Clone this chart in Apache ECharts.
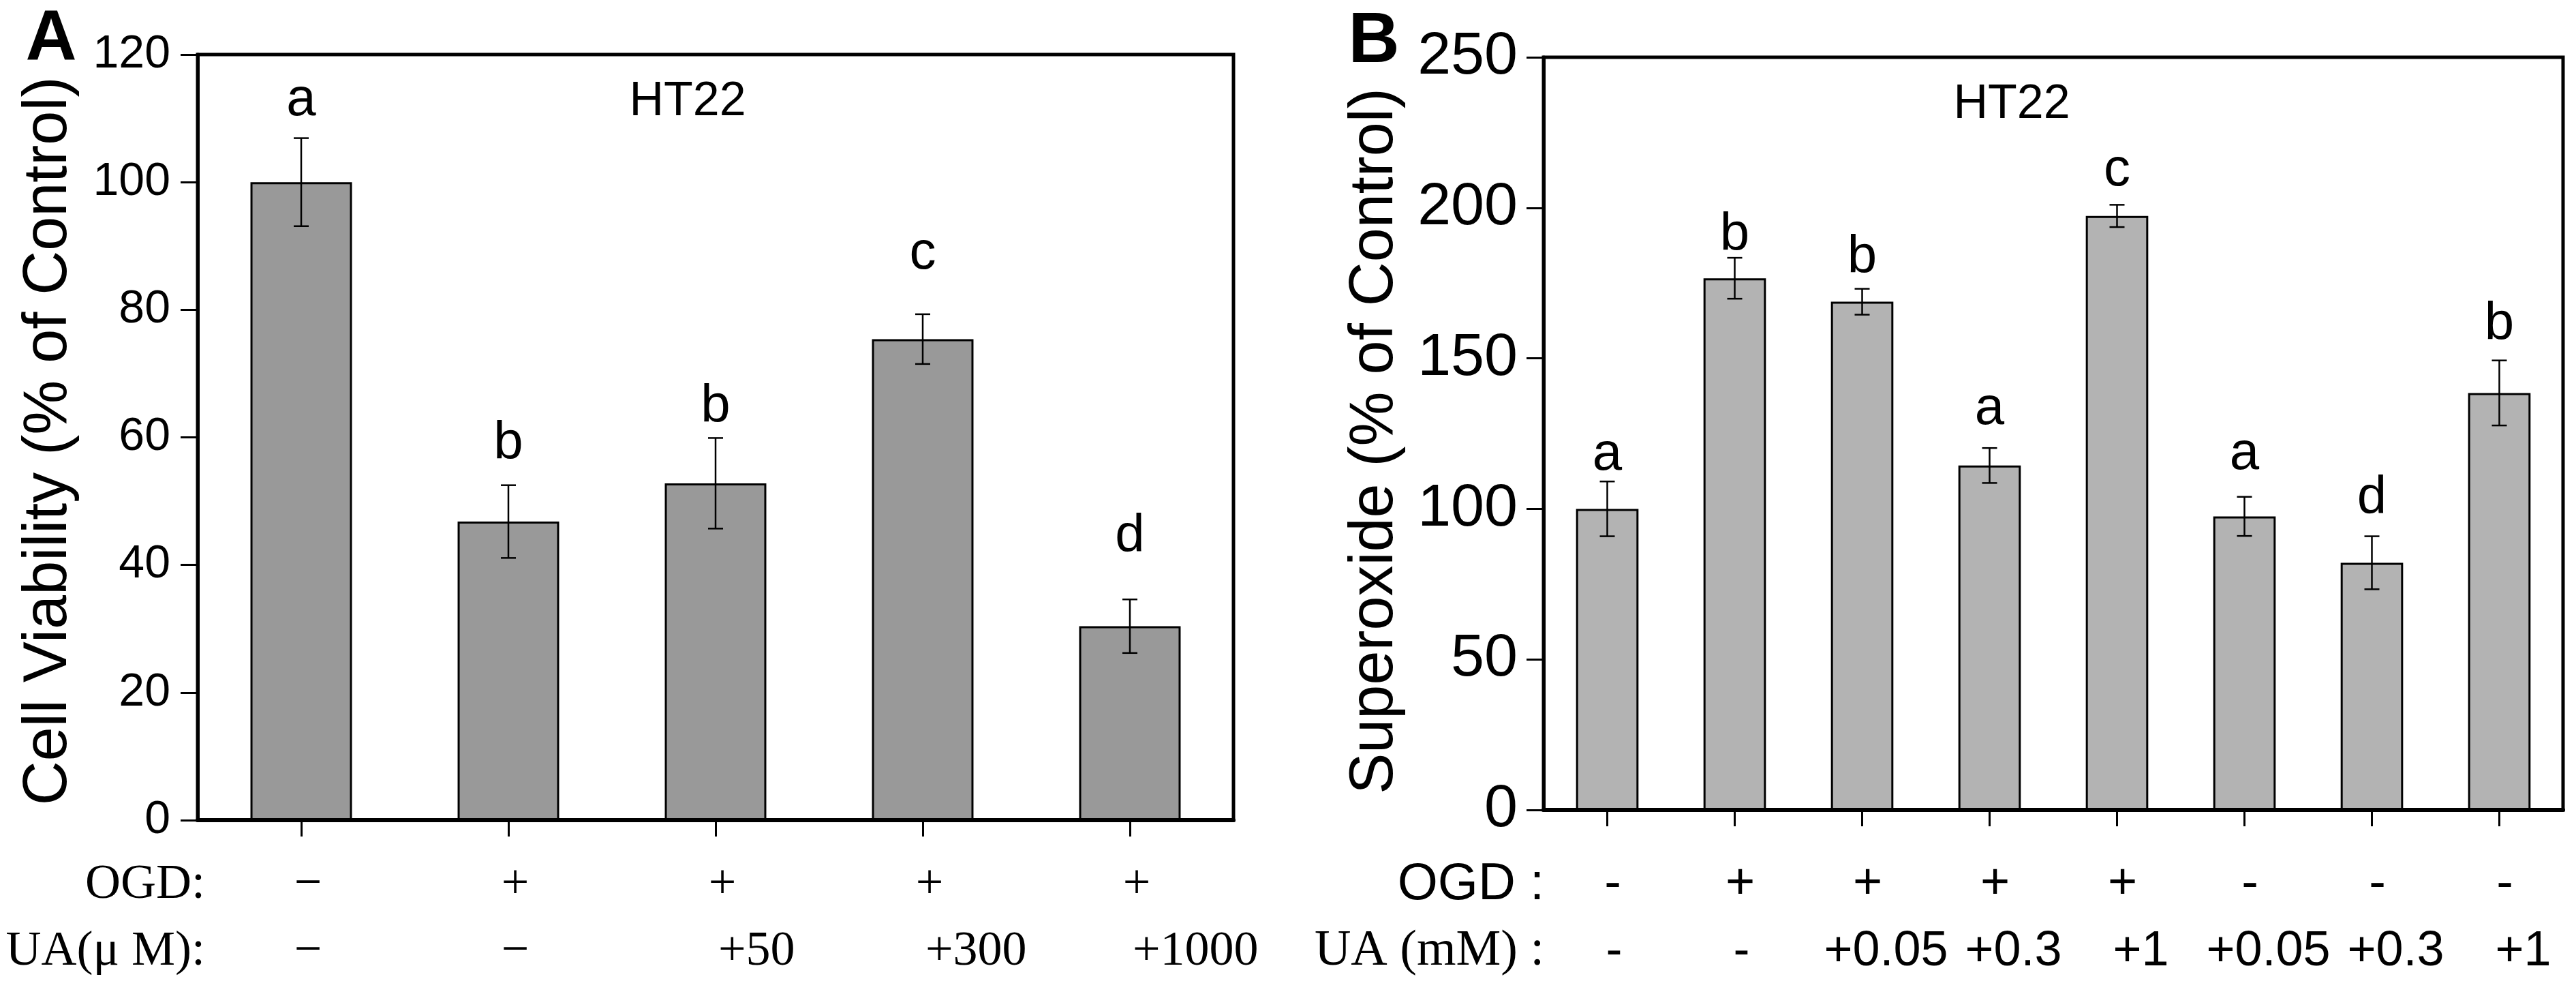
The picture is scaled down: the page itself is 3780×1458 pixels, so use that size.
<!DOCTYPE html>
<html><head><meta charset="utf-8">
<script src="https://cdn.jsdelivr.net/npm/echarts@6/dist/echarts.min.js"></script>
<style>html,body{margin:0;padding:0;background:#fff}#c{width:3780px;height:1458px}</style>
</head><body><div id="c"></div>
<script>
// ---------- Panel A data ----------
const catsA = ['Control', 'OGD', 'OGD+UA50', 'OGD+UA300', 'OGD+UA1000'];
const valuesA = [100, 46.8, 52.8, 75.4, 30.4];
const errorsA = [6.9, 5.7, 7.1, 3.9, 4.2];
const lettersA = ['a', 'b', 'b', 'c', 'd'];
const letterYA = [112.8, 58.9, 64.7, 88.7, 44.4];
const ogdA = ['−', '+', '+', '+', '+'];
const uaA = ['−', '−', '+50', '+300', '+1000'];
const yTicksA = [0, 20, 40, 60, 80, 100, 120];

// ---------- Panel B data ----------
const catsB = ['Control', 'OGD', 'OGD+UA0.05', 'OGD+UA0.3', 'OGD+UA1', 'UA0.05', 'UA0.3', 'UA1'];
const valuesB = [100, 176.6, 168.8, 114.4, 197.3, 97.5, 82.1, 138.5];
const errorsB = [9.1, 6.8, 4.3, 5.8, 3.7, 6.5, 8.8, 10.8];
const lettersB = ['a', 'b', 'b', 'a', 'c', 'a', 'd', 'b'];
const letterYB = [117.8, 190.8, 183.4, 133.0, 212.3, 118.2, 103.4, 161.2];
const ogdB = ['-', '+', '+', '+', '+', '-', '-', '-'];
const uaB = ['-', '-', '+0.05', '+0.3', '+1', '+0.05', '+0.3', '+1'];
const yTicksB = [0, 50, 100, 150, 200, 250];

const SANS = 'Liberation Sans, Arial, sans-serif';
const SERIF = 'Liberation Serif, Times New Roman, serif';

function errorItem(capHalf) {
  return function (params, api) {
    const x = api.value(0), v = api.value(1), e = api.value(2);
    const t = api.coord([x, v + e]);
    const b = api.coord([x, v - e]);
    const st = { stroke: '#000', lineWidth: 2.5 };
    return { type: 'group', children: [
      { type: 'line', shape: { x1: t[0], y1: t[1], x2: b[0], y2: b[1] }, style: st },
      { type: 'line', shape: { x1: t[0] - capHalf, y1: t[1], x2: t[0] + capHalf, y2: t[1] }, style: st },
      { type: 'line', shape: { x1: b[0] - capHalf, y1: b[1], x2: b[0] + capHalf, y2: b[1] }, style: st }
    ]};
  };
}
function letterItem(letters, fs) {
  return function (params, api) {
    const p = api.coord([api.value(0), api.value(1)]);
    return { type: 'text', x: p[0], y: p[1],
      style: { text: letters[params.dataIndex], fill: '#000', fontSize: fs, fontFamily: SANS,
        align: 'center', verticalAlign: 'middle' } };
  };
}

function xAxisCfg(gi, cats) {
  return {
    gridIndex: gi, type: 'category', data: cats, boundaryGap: true,
    axisLine: { show: true, lineStyle: { color: '#000', width: 6 } },
    axisTick: { show: true, alignWithLabel: true, length: 24, inside: false, lineStyle: { color: '#000', width: 3 } },
    axisLabel: { show: false }, splitLine: { show: false }
  };
}
function yAxisCfg(gi, ticks, fs, margin) {
  return {
    gridIndex: gi, type: 'value', min: ticks[0], max: ticks[ticks.length - 1],
    interval: ticks[1] - ticks[0],
    axisLine: { show: true, lineStyle: { color: '#000', width: 5 } },
    axisTick: { show: true, length: 25, lineStyle: { color: '#000', width: 3 } },
    axisLabel: { fontSize: fs, color: '#000', margin: margin, fontFamily: SANS },
    splitLine: { show: false }
  };
}

const option = {
  animation: false,
  backgroundColor: '#fff',
  grid: [
    { left: 290, top: 80, width: 1520, height: 1123, show: true, borderColor: '#000', borderWidth: 5, outerBoundsMode: 'none', containLabel: false },
    { left: 2265, top: 84, width: 1496, height: 1104, show: true, borderColor: '#000', borderWidth: 5, outerBoundsMode: 'none', containLabel: false }
  ],
  xAxis: [xAxisCfg(0, catsA), xAxisCfg(1, catsB)],
  yAxis: [yAxisCfg(0, yTicksA, 68, 40), yAxisCfg(1, yTicksB, 88, 38)],
  series: [
    { type: 'bar', xAxisIndex: 0, yAxisIndex: 0, data: valuesA, barWidth: '49%',
      itemStyle: { color: '#999999', borderColor: '#000', borderWidth: 3 }, z: 2 },
    { type: 'custom', xAxisIndex: 0, yAxisIndex: 0, renderItem: errorItem(11),
      data: valuesA.map((v, i) => [i, v, errorsA[i]]), z: 5 },
    { type: 'custom', xAxisIndex: 0, yAxisIndex: 0, renderItem: letterItem(lettersA, 78),
      data: letterYA.map((y, i) => [i, y]), z: 6 },
    { type: 'bar', xAxisIndex: 1, yAxisIndex: 1, data: valuesB, barWidth: '49%',
      itemStyle: { color: '#b3b3b3', borderColor: '#000', borderWidth: 3 }, z: 2 },
    { type: 'custom', xAxisIndex: 1, yAxisIndex: 1, renderItem: errorItem(11),
      data: valuesB.map((v, i) => [i, v, errorsB[i]]), z: 5 },
    { type: 'custom', xAxisIndex: 1, yAxisIndex: 1, renderItem: letterItem(lettersB, 78),
      data: letterYB.map((y, i) => [i, y]), z: 6 }
  ]
};

const chart = echarts.init(document.getElementById('c'), null, { renderer: 'canvas' });
chart.setOption(option);

function txt(x, y, text, opt) {
  return Object.assign({ type: 'text', x: x, y: y, z: 10,
    style: Object.assign({ text: text, fill: '#000', align: 'center', verticalAlign: 'middle',
      fontFamily: SANS, fontSize: 66 }, opt.style || {}) }, opt.el || {});
}
const g = [];
// panel letters
g.push(txt(75, 58, 'A', { style: { fontSize: 104, fontWeight: 'bold' } }));
g.push(txt(2016, 62, 'B', { style: { fontSize: 104, fontWeight: 'bold' } }));
// HT22
g.push(txt(1009, 150, 'HT22', { style: { fontSize: 70 } }));
g.push(txt(2952, 154, 'HT22', { style: { fontSize: 70 } }));
// y axis names
g.push(txt(72, 647, 'Cell Viability (% of Control)', { style: { fontSize: 90 }, el: { rotation: Math.PI / 2 } }));
g.push(txt(2018, 647, 'Superoxide (% of Control)', { style: { fontSize: 90 }, el: { rotation: Math.PI / 2 } }));

// condition rows, panel A
const rowY1 = 1298, rowY2 = 1396;
g.push(txt(301, rowY1, 'OGD:', { style: { align: 'right', fontFamily: SERIF, fontSize: 72 } }));
g.push(txt(301, rowY2, 'UA(μ M):', { style: { align: 'right', fontFamily: SERIF, fontSize: 72 } }));
catsA.forEach((c, i) => {
  const x = chart.convertToPixel({ xAxisIndex: 0 }, c);
  g.push(txt(x + 10, rowY1, ogdA[i], { style: { fontFamily: SERIF, fontSize: 72 } }));
  const s = uaA[i];
  if (s.length > 1) g.push(txt(x + 4, rowY2, s, { style: { align: 'left', fontFamily: SERIF, fontSize: 72 } }));
  else g.push(txt(x + 10, rowY2, s, { style: { fontFamily: SERIF, fontSize: 72 } }));
});
// condition rows, panel B
g.push(txt(2266, rowY1, 'OGD :', { style: { align: 'right', fontSize: 76 } }));
g.push(txt(2266, rowY2, 'UA (mM) :', { style: { align: 'right', fontFamily: SERIF, fontSize: 74 } }));
catsB.forEach((c, i) => {
  const x = chart.convertToPixel({ xAxisIndex: 1 }, c);
  g.push(txt(x + 8, rowY1, ogdB[i], { style: { fontSize: 74 } }));
  const s = uaB[i];
  g.push(txt(s.length > 1 ? x + 35 : x + 10, rowY2, s, { style: { fontSize: 72 } }));
});
chart.setOption({ graphic: g });
</script>
</body></html>
